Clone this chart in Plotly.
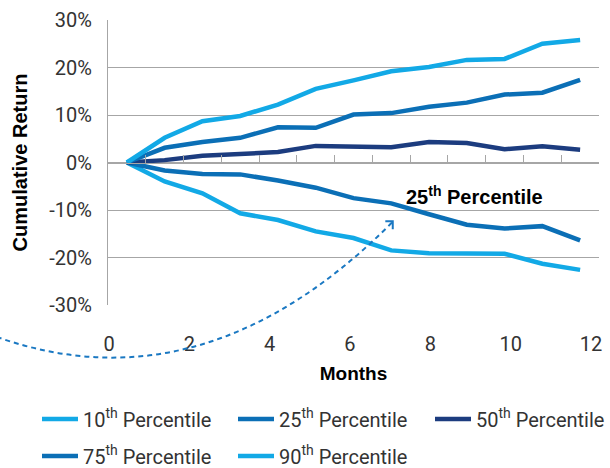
import plotly.graph_objects as go

# Cumulative return paths by percentile, months 0-12 (percent)
months = list(range(13))
p10 = [0, -4.0, -6.5, -10.7, -12.1, -14.5, -15.9, -18.5, -19.1, -19.2, -19.2, -21.3, -22.6]
p25 = [0, -1.7, -2.4, -2.5, -3.8, -5.3, -7.5, -8.6, -10.9, -13.1, -13.9, -13.4, -16.4]
p50 = [0, 0.5, 1.4, 1.9, 2.2, 3.5, 3.4, 3.2, 4.3, 4.1, 2.8, 3.4, 2.7]
p75 = [0, 3.1, 4.3, 5.2, 7.4, 7.3, 10.1, 10.4, 11.75, 12.6, 14.3, 14.7, 17.4]
p90 = [0, 5.2, 8.7, 9.8, 12.2, 15.5, 17.3, 19.2, 20.1, 21.6, 21.8, 25.0, 25.8]

series_names = [
    "10<sup>th</sup> Percentile",
    "25<sup>th</sup> Percentile",
    "50<sup>th</sup> Percentile",
    "75<sup>th</sup> Percentile",
    "90<sup>th</sup> Percentile",
]
series_values = [p10, p25, p50, p75, p90]

LIGHT = "#12A9E6"
MID = "#0B6FB6"
NAVY = "#1C3C7F"
series_colors = [LIGHT, MID, NAVY, MID, LIGHT]

y_tick_vals = [-30, -20, -10, 0, 10, 20, 30]
y_tick_text = ["-30%", "-20%", "-10%", "0%", "10%", "20%", "30%"]
x_tick_vals = [0, 2, 4, 6, 8, 10, 12]
x_tick_text = ["0", "2", "4", "6", "8", "10", "12"]

GRID = "#A6A6A6"
TEXT = "#333333"
REG = "Roboto, Arial, sans-serif"
BOLD = "Liberation Sans, Arial, sans-serif"

W, H = 610, 468
ML, MR, MT, MB = 108, 8, 19, 163
PW, PH = W - ML - MR, H - MT - MB

# Legend grid: three columns, two rows (pixel anchors of each entry)
legend_cols = [37, 233, 430]
legend_rows = [419, 456]
legend_ids = ["legend", "legend2", "legend3", "legend4", "legend5"]


def px(xp, yp):
    """Pixel position on the page -> paper coordinates."""
    return (xp - ML) / PW, (H - MB - yp) / PH


fig = go.Figure()
for name, vals, color, leg in zip(series_names, series_values, series_colors, legend_ids):
    fig.add_trace(go.Scatter(
        x=months, y=vals, name=name, mode="lines",
        line=dict(color=color, width=4.5),
        legend=leg, hoverinfo="skip",
    ))

# Dashed curved pointer toward the 25th percentile label
x0, y0 = px(-4, 337)
cx, cy = px(205, 411)
x1, y1 = px(394, 222)
ax0, ay0 = px(387, 221)
ax1, ay1 = px(394.5, 221)
ax2, ay2 = px(394.5, 229)

shapes = [
    dict(type="path", xref="paper", yref="paper",
         path=f"M {x0},{y0} Q {cx},{cy} {x1},{y1}",
         line=dict(color="#1A78C2", width=2, dash="5px,4px")),
    dict(type="path", xref="paper", yref="paper",
         path=f"M {ax0},{ay0} L {ax1},{ay1} L {ax2},{ay2}",
         line=dict(color="#1A78C2", width=2)),
]

legend_common = dict(
    orientation="h", xref="container", yref="container",
    xanchor="left", yanchor="middle", itemwidth=36,
    font=dict(family=REG, size=20, color=TEXT),
    bgcolor="rgba(0,0,0,0)", borderwidth=0,
)
legend_layout = {}
for i, leg in enumerate(legend_ids):
    col = legend_cols[i % 3]
    row = legend_rows[i // 3]
    legend_layout[leg] = dict(x=col / W, y=1 - row / H, **legend_common)

fig.update_layout(
    width=W, height=H, autosize=False,
    margin=dict(l=ML, r=MR, t=MT, b=MB, pad=0),
    paper_bgcolor="white", plot_bgcolor="white",
    showlegend=True,
    xaxis=dict(
        range=[-0.5, 12.5], tick0=-0.5, dtick=1,
        showticklabels=False, ticks="inside", ticklen=8,
        tickcolor=GRID, tickwidth=1,
        showline=True, linecolor=GRID, linewidth=1,
        showgrid=False, zeroline=False,
        anchor="free", position=0.5,
    ),
    xaxis2=dict(
        overlaying="x", anchor="y", side="bottom",
        range=[-0.025, 12.2], tickvals=x_tick_vals, ticktext=x_tick_text,
        showgrid=False, showline=False, zeroline=False, ticks="",
        ticklabelstandoff=25,
        tickfont=dict(family=REG, size=20, color=TEXT),
        title=dict(text="<b>Months</b>", font=dict(family=BOLD, size=19, color="black"),
                   standoff=11),
    ),
    yaxis=dict(
        range=[-30, 30], tickvals=y_tick_vals, ticktext=y_tick_text,
        showgrid=True, gridcolor=GRID, gridwidth=1,
        showline=True, linecolor=GRID, linewidth=1,
        zeroline=False, ticks="", ticklabelstandoff=11,
        tickfont=dict(family=REG, size=20, color=TEXT),
        title=dict(text="<b>Cumulative Return</b>", font=dict(family=BOLD, size=20, color="black"),
                   standoff=16),
    ),
    annotations=[dict(
        x=9.2, y=-6.9, xref="x", yref="y",
        text="<b>25<sup>th</sup> Percentile</b>", showarrow=False,
        font=dict(family=BOLD, size=20, color="black"),
    )],
    shapes=shapes,
    **legend_layout,
)

# Empty trace on the secondary axis so its month labels are drawn
fig.add_trace(go.Scatter(x=[None], y=[None], xaxis="x2", showlegend=False, hoverinfo="skip"))

fig.write_html("out.html")
